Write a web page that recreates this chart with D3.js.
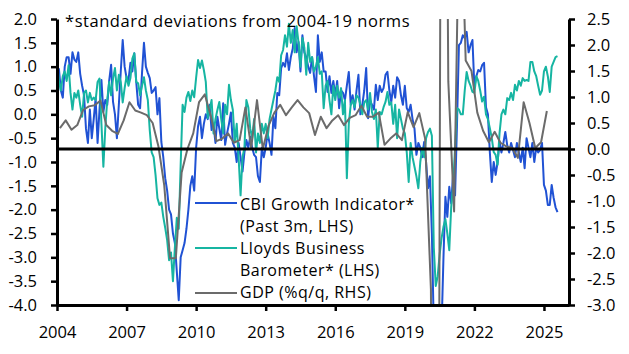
<!DOCTYPE html>
<html><head><meta charset="utf-8">
<script src="https://cdn.jsdelivr.net/npm/d3@7"></script>
<style>body{margin:0;background:#fff} text{font-family:"Open Sans",sans-serif;fill:#000}</style>
</head><body><svg id="c" width="629" height="354"></svg>
<script>
// CBI Growth Indicator (past 3m), monthly from Jan 2004, std devs (LHS)
const cbi = [
 0.9, 0.95, 0.5, 0.35, 1.0, 1.2, 1.2, 0.85, 1.3, 1.15, 1.1, 1.3,
 0.85, 0.6, 0.4, -0.3, -0.6, 0.1, -0.5, -0.1, 0.34, -0.6, 0.1, 0.72,
 0.05, 0.3, 0.2, 0.7, 1.04, 0.26, 0.0, -0.5, 0.2, 0.9, 1.56, 1.0,
 0.76, 0.72, 1.08, 0.9, 1.28, 0.68, 0.2, 0.13, 0.87, 1.5, 1.0, 0.87,
 0.76, 0.45, 0.5, 0.57, 0.0, 0.34, -0.58, -0.9, -1.34, -1.6, -2.0, -2.1,
 -2.5, -2.7, -3.3, -3.9, -3.0, -2.85, -2.7, -2.4, -2.0, -1.5, -1.3, -1.6,
 -0.7, -0.25, -0.05, -0.5, -0.2, 0.0, -0.1, 0.2, -0.33, -0.2, -0.6, -0.05,
 -0.3, -0.54, 0.23, -0.64, -0.4, -0.2, 0.04, -0.6, -0.7, -1.0, -0.6, -0.9,
 -1.2, -0.8, -0.54, -0.7, -0.47, -0.7, -0.85, -0.9, -1.3, -1.42, -0.7, -0.9,
 -0.7, -0.4, -0.6, -0.85, -0.05, -0.29, 0.45, 0.4, 0.97, 1.08, 1.0, 1.28,
 0.93, 1.2, 1.38, 1.81, 1.3, 1.52, 0.9, 1.66, 1.3, 1.2, 1.0, 0.87,
 1.2, 0.8, 0.47, 1.66, 1.1, 1.3, 0.9, 0.9, 0.47, 0.8, 0.45, 0.7,
 0.4, 0.7, 0.13, 0.5, 0.45, 0.3, 0.6, 0.89, 0.2, 0.4, 0.1, 0.5,
 0.83, 0.0, 0.2, 0.5, 0.97, -0.08, 0.3, 0.2, 0.1, 0.62, 0.3, 0.6,
 0.47, 0.55, 0.83, 0.89, 0.5, 0.26, 0.6, 0.35, 0.78, 0.7, 0.4, 0.2,
 0.6, 0.13, 0.05, 0.2, -0.1, -0.3, -0.85, -0.6, -0.7, -0.9, -0.58, -1.0,
 -1.55, -1.3, -2.5, -4.5, -7.0, -7.0, -6.0, -4.5, -3.0, -1.73, -2.15, -1.52,
 -1.87, -1.24, -1.7, -0.2, 1.45, 1.5, 1.66, 1.6, 1.73, 1.3, 1.45, 1.56,
 0.57, 0.8, 0.93, 0.9, 1.03, 1.08, 0.15, 0.0, -0.8, -1.42, -1.0, -1.27,
 -1.0, -0.58, -0.8, -0.6, -0.37, -0.65, -0.8, -0.6, -0.75, -0.9, -0.6, -0.8,
 -1.0, -0.7, -1.13, -0.5, -0.7, -0.9, -0.6, -1.0, -0.7, -0.8, -0.75, -0.6,
 -1.48, -1.6, -1.9, -1.9, -1.48, -1.75, -1.95, -2.05
];
// Lloyds Business Barometer, monthly from Jan 2004, std devs (LHS)
const lloyds = [
 1.1, 0.7, 0.5, 0.8, 0.9, 0.7, 1.03, 0.45, 0.1, 0.45, 0.35, 0.5,
 0.2, -0.05, 0.45, 0.5, 0.25, 0.45, 0.3, 0.35, 0.3, 0.68, 0.75, -0.2,
 -1.1, -0.28, 0.3, 0.68, 0.4, 0.75, 0.97, 0.5, 0.83, 0.68, 0.25, 0.55,
 0.8, 0.6, 0.76, 1.17, 1.28, 0.68, 0.65, 0.4, 0.6, 0.78, 0.5, 0.3,
 -0.33, -0.8, -0.9, -1.27, -1.76, -1.9, -1.85, -2.15, -2.38, -2.64, -3.06, -2.9,
 -3.5, -2.8, -2.17, -2.4, -1.06, 0.2, 0.05, 0.35, 0.47, 0.28, 0.5, 0.36,
 0.77, 1.14, 0.97, 1.13, 0.93, 0.68, -0.08, 0.1, 0.3, -0.4, -0.1, 0.09,
 0.26, -0.1, -0.4, 0.2, 0.0, 0.62, 0.3, 0.09, -0.58, -0.2, -0.92, -1.7,
 -0.9, -0.7, 0.3, 0.15, -0.3, -0.5, -0.1, -0.8, -0.4, -0.6, -0.2, -0.4,
 -0.2, -0.5, -0.1, 0.1, 0.3, 0.5, 0.78, 0.68, 1.24, 1.35, 1.66, 1.42,
 1.9, 1.5, 1.77, 1.3, 1.85, 1.5, 1.0, 1.6, 1.4, 0.83, 1.5, 1.1,
 1.2, 0.9, 1.0, 1.2, 0.85, 0.9, 0.13, 0.6, 0.7, 0.3, 0.0, 0.6,
 0.3, 0.6, 0.35, 0.55, 0.0, 0.3, -1.34, -0.2, 0.2, 0.3, 0.15, 0.4,
 0.35, 0.2, 0.0, 0.25, 0.3, 0.1, 0.45, 0.05, -0.1, 0.1, -0.7, 0.05,
 0.0, 0.15, 0.26, 0.47, 0.2, 0.25, -0.2, 0.2, -0.5, 0.1, -0.1, -0.3,
 -0.4, -0.8, -1.42, -0.6, -0.9, -1.1, -1.3, -1.55, -1.0, -0.7, -0.9, -0.5,
 -0.37, -0.3, -0.45, -2.8, -3.6, -3.4, -2.95, -2.6, -2.36, -2.2, -2.5, -2.85,
 -1.94, -1.5, -0.7, 0.13, 0.1, 0.0, 0.0, 0.5, 0.89, 0.7, 0.6, 0.47,
 0.45, 0.8, 0.7, 0.5, 0.27, 0.37, 0.0, -0.1, -0.29, -0.5, -0.79, -0.85,
 -1.06, -0.4, 0.0, 0.1, 0.0, 0.34, 0.3, 0.45, 0.3, 0.62, 0.5, 0.7,
 0.6, 0.76, 0.7, 0.72, 0.7, 1.1, 1.1, 0.9, 0.8, 0.6, 0.41, 0.5,
 0.9, 1.0, 0.8, 0.47, 1.0, 1.1, 1.2, 1.22
];
// GDP %q/q, quarterly from 2004 Q1 (RHS)
const gdp = [
 0.40, 0.55, 0.37, 0.46,
 0.75, 0.82, 0.84, 0.93,
 0.46, 0.35, 0.29, 0.55,
 0.9, 0.74, 0.7, 0.65,
 0.5, 0.05, -0.7, -2.1,
 -2.1, -0.45, 0.0, 0.3,
 0.9, 1.05, 0.65, 0.15,
 0.2, 0.3, 0.12, 0.17,
 0.8, 0.02, 0.94, 0.0,
 0.45, 0.7, 0.85, 0.65,
 0.8, 0.94, 0.8, 0.69,
 0.27, 0.62, 0.4, 0.55,
 0.65, 0.46, 0.6, 0.65,
 0.83, 0.62, 0.62, 0.7,
 0.08, 0.2, 0.3, 0.17,
 0.71, 0.42, 0.69, 0.2,
 -2.7, -19.4, 16.9, 1.3,
 -1.2, 5.6, 1.7, 1.5,
 0.7, 0.35, 0.13, 0.33,
 0.12, 0.05, 0.02, -0.17,
 0.9, 0.5, 0.02, 0.13,
 0.73
];
const yearTicks = [2004, 2007, 2010, 2013, 2016, 2019, 2022, 2025];
const leftTicks = [2.0, 1.5, 1.0, 0.5, 0.0, -0.5, -1.0, -1.5, -2.0, -2.5, -3.0, -3.5, -4.0];
const rightTicks = [2.5, 2.0, 1.5, 1.0, 0.5, 0.0, -0.5, -1.0, -1.5, -2.0, -2.5, -3.0];
const noteText = "*standard deviations from 2004-19 norms";
const legendLabels = [
  ["CBI Growth Indicator*", "(Past 3m, LHS)"],
  ["Lloyds Business", "Barometer* (LHS)"],
  ["GDP (%q/q, RHS)"]
];
const colors = ["#2052d4", "#16b5a2", "#6b6b6b"];

const svg = d3.select("#c");
const x = d3.scaleLinear().domain([2004, 2026.08]).range([57, 569]);
const yL = d3.scaleLinear().domain([-4, 2]).range([305, 19]);
const yR = d3.scaleLinear().domain([-3, 2.5]).range([305, 19]);

svg.append("defs").append("clipPath").attr("id", "plot")
  .append("rect").attr("x", 57).attr("y", 19).attr("width", 512).attr("height", 286);

const g = svg.append("g").attr("clip-path", "url(#plot)");
const monthly = arr => arr.map((v, i) => ({t: 2004 + i / 12, v}));
const quarterly = arr => arr.map((v, i) => ({t: 2004 + i / 4 + 0.125, v}));

const lineL = d3.line().x(d => x(d.t)).y(d => yL(d.v));
const lineR = d3.line().x(d => x(d.t)).y(d => yR(d.v));

g.append("path").datum(monthly(cbi)).attr("d", lineL)
  .attr("fill", "none").attr("stroke", colors[0]).attr("stroke-width", 2).attr("stroke-linejoin", "round");
g.append("path").datum(monthly(lloyds)).attr("d", lineL)
  .attr("fill", "none").attr("stroke", colors[1]).attr("stroke-width", 2).attr("stroke-linejoin", "round");
g.append("path").datum(quarterly(gdp)).attr("d", lineR)
  .attr("fill", "none").attr("stroke", colors[2]).attr("stroke-width", 2).attr("stroke-linejoin", "round");

// zero line of RHS
svg.append("line").attr("x1", 57).attr("x2", 569).attr("y1", yR(0)).attr("y2", yR(0))
  .attr("stroke", "#000").attr("stroke-width", 3);

const fmt = d => d.toFixed(1);
const fs = "16.5px";

const ax = svg.append("g").attr("transform", "translate(57,0)")
  .call(d3.axisLeft(yL).tickValues(leftTicks).tickFormat(fmt).tickSize(6).tickSizeOuter(0).tickPadding(14));
const ar = svg.append("g").attr("transform", "translate(569,0)")
  .call(d3.axisRight(yR).tickValues(rightTicks).tickFormat(fmt).tickSize(6).tickSizeOuter(0).tickPadding(12));
const ab = svg.append("g").attr("transform", "translate(0,305)")
  .call(d3.axisBottom(x).tickValues(yearTicks).tickFormat(d3.format("d")).tickSize(6).tickSizeOuter(0).tickPadding(15));

[ax, ar, ab].forEach(a => {
  a.select(".domain").attr("stroke", "#000").attr("stroke-width", 3);
  a.selectAll(".tick line").attr("stroke", "#000").attr("stroke-width", 2.5);
  a.selectAll(".tick text").attr("font-size", fs).attr("font-family", "'Open Sans',sans-serif").attr("fill", "#000");
});

svg.append("text").attr("x", 65).attr("y", 27).attr("font-size", fs)
  .attr("letter-spacing", "0.55px").text(noteText);

// legend
const legendLineY = [203, 248, 293];
const legendTextY = [[210, 232], [254, 276], [298]];
legendLabels.forEach((lab, i) => {
  svg.append("line").attr("x1", 195).attr("x2", 237).attr("y1", legendLineY[i]).attr("y2", legendLineY[i])
    .attr("stroke", colors[i]).attr("stroke-width", 2);
  lab.forEach((s, j) => {
    svg.append("text").attr("x", 240).attr("y", legendTextY[i][j]).attr("font-size", "16px")
      .attr("letter-spacing", "0.5px").text(s);
  });
});
</script></body></html>
